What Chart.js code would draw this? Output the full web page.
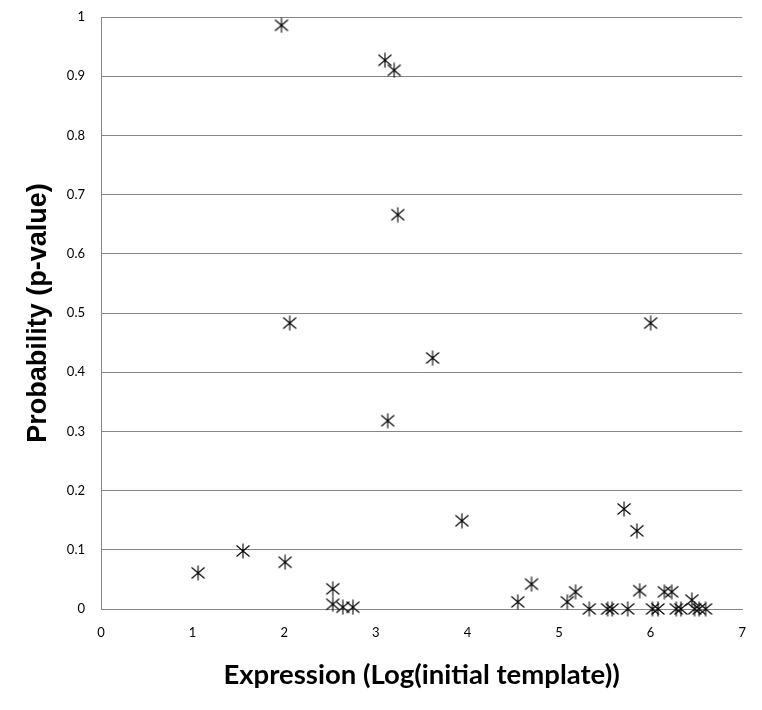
<!DOCTYPE html>
<html>
<head>
<meta charset="utf-8">
<script src="https://cdn.jsdelivr.net/npm/chart.js@4"></script>
<style>
  html, body { margin: 0; padding: 0; background: #fff; }
  #wrap { width: 762px; height: 710px; }
</style>
</head>
<body>
<div id="wrap"><canvas id="chart" width="762" height="710"></canvas></div>
<script>
// expression (log initial template)
const expression = [
  1.97, 3.10, 3.20, 3.24, 2.06, 3.62, 3.13, 6.00, 3.94, 5.71, 5.85,
  1.06, 1.55, 2.01, 2.53, 2.53, 2.64, 2.75,
  4.55, 4.70, 5.09, 5.18, 5.33, 5.53, 5.58, 5.75, 5.88, 6.02, 6.08,
  6.15, 6.23, 6.28, 6.33, 6.45, 6.48, 6.53, 6.60,
];
// p-value
const probability = [
  0.986, 0.927, 0.910, 0.666, 0.483, 0.424, 0.318, 0.483, 0.149, 0.169, 0.132,
  0.061, 0.098, 0.079, 0.034, 0.008, 0.003, 0.003,
  0.012, 0.042, 0.012, 0.029, 0.0, 0.0, 0.0, 0.0, 0.031, 0.0, 0.0,
  0.029, 0.029, 0.0, 0.0, 0.015, 0.0, 0.0, 0.0,
];
const xTicks = [0, 1, 2, 3, 4, 5, 6, 7];
const yTicks = [0, 0.1, 0.2, 0.3, 0.4, 0.5, 0.6, 0.7, 0.8, 0.9, 1];

// 6-ray asterisk marker (X + vertical bar)
const makeMarker = () => {
  const c = document.createElement('canvas');
  c.width = 16;
  c.height = 16;
  const g = c.getContext('2d');
  g.strokeStyle = '#000';
  g.lineWidth = 1.1;
  g.beginPath();
  g.moveTo(1.5, 2.5); g.lineTo(14.5, 13.5);
  g.moveTo(14.5, 2.5); g.lineTo(1.5, 13.5);
  g.moveTo(8, 0.5); g.lineTo(8, 15.5);
  g.stroke();
  return c;
};

const points = expression.map((x, i) => ({ x, y: probability[i] }));
const tickFont = { family: 'Lato, "Open Sans", sans-serif', size: 13 };

new Chart(document.getElementById('chart'), {
  type: 'scatter',
  data: {
    datasets: [
      {
        data: points,
        pointStyle: makeMarker(),
        pointRadius: 8,
        clip: false,
      },
    ],
  },
  options: {
    responsive: false,
    animation: false,
    layout: { padding: { top: 17, right: 19, left: 0, bottom: 0 } },
    plugins: {
      legend: { display: false },
      tooltip: { enabled: false },
    },
    scales: {
      x: {
        type: 'linear',
        min: 0,
        max: 7,
        afterBuildTicks: (axis) => { axis.ticks = xTicks.map((v) => ({ value: v })); },
        afterFit: (axis) => { axis.height = 101; },
        grid: { display: false, drawTicks: false },
        border: { display: true, color: '#868686', width: 1 },
        ticks: { color: '#000', font: tickFont, padding: 16, callback: (v) => String(v) },
        title: {
          display: true,
          text: 'Expression (Log(initial template))',
          color: '#000',
          font: { family: 'Lato, "Open Sans", sans-serif', size: 27.5, weight: 'bold' },
          padding: { top: 10, bottom: 18 },
        },
      },
      y: {
        type: 'linear',
        min: 0,
        max: 1,
        afterBuildTicks: (axis) => { axis.ticks = yTicks.map((v) => ({ value: v })); },
        afterFit: (axis) => {
          axis.width = 101;
          axis.paddingTop = 0;
          axis.paddingBottom = 0;
        },
        grid: { color: '#868686', drawTicks: false },
        border: { display: true, color: '#868686', width: 1 },
        ticks: { color: '#000', font: tickFont, padding: 16, callback: (v) => String(v) },
        title: {
          display: true,
          text: 'Probability (p-value)',
          color: '#000',
          font: { family: '"Liberation Sans", Arial, sans-serif', size: 27, weight: 'bold' },
          padding: { top: 22, bottom: 10 },
        },
      },
    },
  },
});
</script>
</body>
</html>
